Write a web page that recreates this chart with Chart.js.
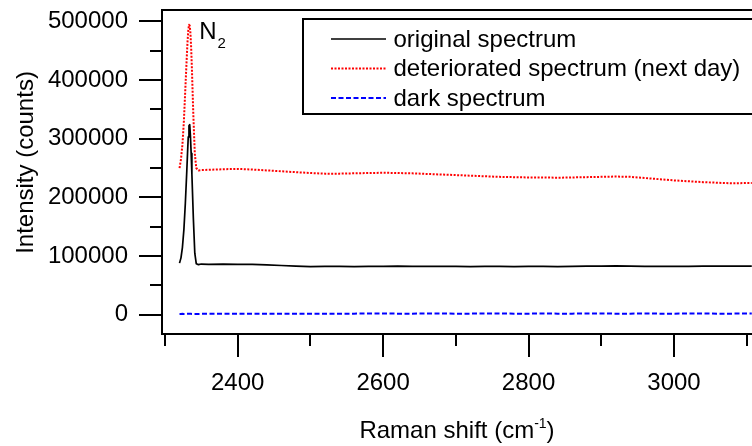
<!DOCTYPE html>
<html><head><meta charset="utf-8">
<script src="https://cdn.jsdelivr.net/npm/chart.js@4/dist/chart.umd.min.js"></script>
<style>html,body{margin:0;padding:0;background:#fff;}#wrap{width:752px;height:446px;position:relative;}</style>
</head><body><div id="wrap"><canvas id="c" width="752" height="446"></canvas></div>
<script>
// ---- data ----
const ramanShift = [2320,2322,2324,2326,2328,2330,2331,2332,2333,2334,2335,2336,2337,2339,2341,2343,2346,2350,
  2360,2380,2400,2420,2440,2460,2480,2500,2520,2540,2560,2580,2600,2620,2640,2660,2680,2700,2720,2740,
  2760,2780,2800,2820,2840,2860,2880,2900,2920,2940,2960,2980,3000,3020,3040,3060,3080,3100,3107];
const originalSpectrum = [88000,97000,115000,145000,190000,245000,275000,303000,322000,324000,305000,275000,240000,165000,105000,87000,85500,86500,
  86000,86500,86000,86000,85000,84000,83000,82000,82500,82500,82000,82500,82500,83000,82500,82500,82500,82500,82000,82500,
  82500,82000,82500,82500,82000,82500,83000,83000,83500,83000,82500,82500,82500,82500,83000,83000,83000,83000,83000];
const deterioratedSpectrum = [250000,265000,290000,330000,385000,440000,465000,484000,494000,493000,480000,455000,420000,340000,275000,250000,246000,246500,
  247000,248000,248500,247500,246000,244500,243000,241500,240500,240500,241000,241500,242000,241500,241000,240000,239000,238000,237000,236000,
  235000,234500,234000,234000,233500,234000,234500,235000,235500,235000,233000,231000,229000,227500,226000,225000,224000,224500,224500];
const darkSpectrum = [1500,1500,1600,1500,1500,1600,1600,1700,1700,1700,1600,1600,1500,1500,1500,1500,1500,1600,
  1600,1700,1700,1800,1800,1900,1900,2000,2000,2000,2000,2100,2100,2000,2000,2100,2100,2000,2000,2100,
  2100,2000,2000,2100,2000,2000,2100,2100,2000,2000,2100,2000,2000,2100,2100,2000,2000,2100,2100];
const seriesLabels = ['original spectrum','deteriorated spectrum (next day)','dark spectrum'];
const yTickValues = [0,100000,200000,300000,400000,500000];
const xTickValues = [2400,2600,2800,3000];
const yMajorStep = 100000, yMinorStep = 50000;
const xMajorStep = 200, xMinorStep = 100;
const xTitleText = 'Raman shift (cm', xTitleSup = '-1', xTitleEnd = ')';
const yTitleText = 'Intensity (counts)';
const peakLabel = 'N', peakLabelSub = '2';

const FONT = "'Liberation Sans', Arial, sans-serif";
const pts = arr => ramanShift.map((x,i)=>({x, y: arr[i]}));

const decor = {
  id: 'decor',
  afterDraw(chart){
    const {ctx, chartArea:a, scales:{x, y}} = chart;
    ctx.save();
    ctx.strokeStyle = '#000'; ctx.lineWidth = 2;
    // frame
    ctx.beginPath();
    ctx.moveTo(a.right + 5, a.top); ctx.lineTo(a.left, a.top);
    ctx.lineTo(a.left, a.bottom); ctx.lineTo(a.right + 5, a.bottom);
    ctx.stroke();
    // y ticks
    ctx.beginPath();
    for (let v = 0; v <= y.max; v += yMinorStep) {
      const p = Math.round(y.getPixelForValue(v));
      const len = (v % yMajorStep === 0) ? 23 : 12;
      ctx.moveTo(a.left - len, p); ctx.lineTo(a.left, p);
    }
    // x ticks
    const x0 = Math.ceil(x.min / xMinorStep) * xMinorStep;
    for (let v = x0; v <= x.max; v += xMinorStep) {
      const p = Math.round(x.getPixelForValue(v));
      const len = (v % xMajorStep === 0) ? 23 : 12;
      ctx.moveTo(p, a.bottom); ctx.lineTo(p, a.bottom + len);
    }
    ctx.stroke();

    // legend
    const lx = 303, ly = 19, lh = 95;
    ctx.fillStyle = '#fff';
    ctx.fillRect(lx, ly, 470, lh);
    ctx.strokeRect(lx, ly, 470, lh);
    const rows = [39, 68.5, 98];
    ctx.font = '24px ' + FONT; ctx.fillStyle = '#000';
    ctx.textAlign = 'left'; ctx.textBaseline = 'middle';
    chart.data.datasets.forEach((ds, i) => {
      ctx.save();
      ctx.strokeStyle = ds.borderColor; ctx.lineWidth = ds.borderWidth;
      ctx.setLineDash(ds.borderDash || []);
      ctx.beginPath(); ctx.moveTo(331, rows[i]); ctx.lineTo(386, rows[i]); ctx.stroke();
      ctx.restore();
      ctx.fillText(ds.label, 393.5, rows[i] + 1);
    });

    // N2 annotation
    ctx.textBaseline = 'alphabetic';
    const nx = x.getPixelForValue(2347), ny = y.getPixelForValue(469000);
    ctx.font = '24px ' + FONT;
    ctx.fillText(peakLabel, nx, ny);
    const nw = ctx.measureText(peakLabel).width;
    ctx.font = '15px ' + FONT;
    ctx.fillText(peakLabelSub, nx + nw + 1, ny + 8.5);

    // x title with superscript
    ctx.font = '24px ' + FONT;
    const w1 = ctx.measureText(xTitleText).width;
    const w3 = ctx.measureText(xTitleEnd).width;
    ctx.font = '14px ' + FONT;
    const w2 = ctx.measureText(xTitleSup).width;
    const cx = (a.left + a.right) / 2;
    let sx = cx - (w1 + w2 + w3) / 2;
    const by = 438;
    ctx.font = '24px ' + FONT; ctx.fillText(xTitleText, sx, by); sx += w1;
    ctx.font = '14px ' + FONT; ctx.fillText(xTitleSup, sx, by - 10); sx += w2;
    ctx.font = '24px ' + FONT; ctx.fillText(xTitleEnd, sx, by);

    // y title
    ctx.save();
    ctx.translate(32.5, 162.5); ctx.rotate(-Math.PI / 2);
    ctx.textAlign = 'center'; ctx.font = '24px ' + FONT;
    ctx.fillText(yTitleText, 0, 0);
    ctx.restore();
    ctx.restore();
  }
};

new Chart(document.getElementById('c'), {
  type: 'line',
  data: {
    datasets: [
      {label: seriesLabels[0], data: pts(originalSpectrum), borderColor: '#000000', borderWidth: 1.7, borderJoinStyle: 'round', pointRadius: 0, tension: 0, fill: false},
      {label: seriesLabels[1], data: pts(deterioratedSpectrum), borderColor: '#ff0000', borderWidth: 2, borderDash: [2, 1.5], borderJoinStyle: 'round', pointRadius: 0, tension: 0, fill: false},
      {label: seriesLabels[2], data: pts(darkSpectrum), borderColor: '#0000ff', borderWidth: 2, borderDash: [5, 2.5], borderJoinStyle: 'round', pointRadius: 0, tension: 0, fill: false}
    ]
  },
  options: {
    responsive: false, animation: false, devicePixelRatio: 1, events: [],
    layout: {padding: {top: 10, left: 0, right: 0, bottom: 0}},
    plugins: {legend: {display: false}, tooltip: {enabled: false}},
    scales: {
      x: {
        type: 'linear', min: 2295.9, max: 3107.3,
        grid: {display: false, drawTicks: false}, border: {display: false},
        ticks: {autoSkip: false, maxRotation: 0, minRotation: 0, padding: 35,
          color: '#000', font: {size: 24, family: FONT}, callback: v => String(v)},
        afterBuildTicks(s){ s.ticks = xTickValues.map(v => ({value: v})); },
        afterFit(s){ s.height = 112; s.paddingLeft = 0; s.paddingRight = 0; }
      },
      y: {
        type: 'linear', min: -32700, max: 519250,
        grid: {display: false, drawTicks: false}, border: {display: false},
        ticks: {padding: 34, color: '#000', font: {size: 24, family: FONT}, callback: v => String(v)},
        afterBuildTicks(s){ s.ticks = yTickValues.map(v => ({value: v})); },
        afterFit(s){ s.width = 162; s.paddingTop = 0; s.paddingBottom = 0; }
      }
    }
  },
  plugins: [decor]
});
</script>
</body></html>
